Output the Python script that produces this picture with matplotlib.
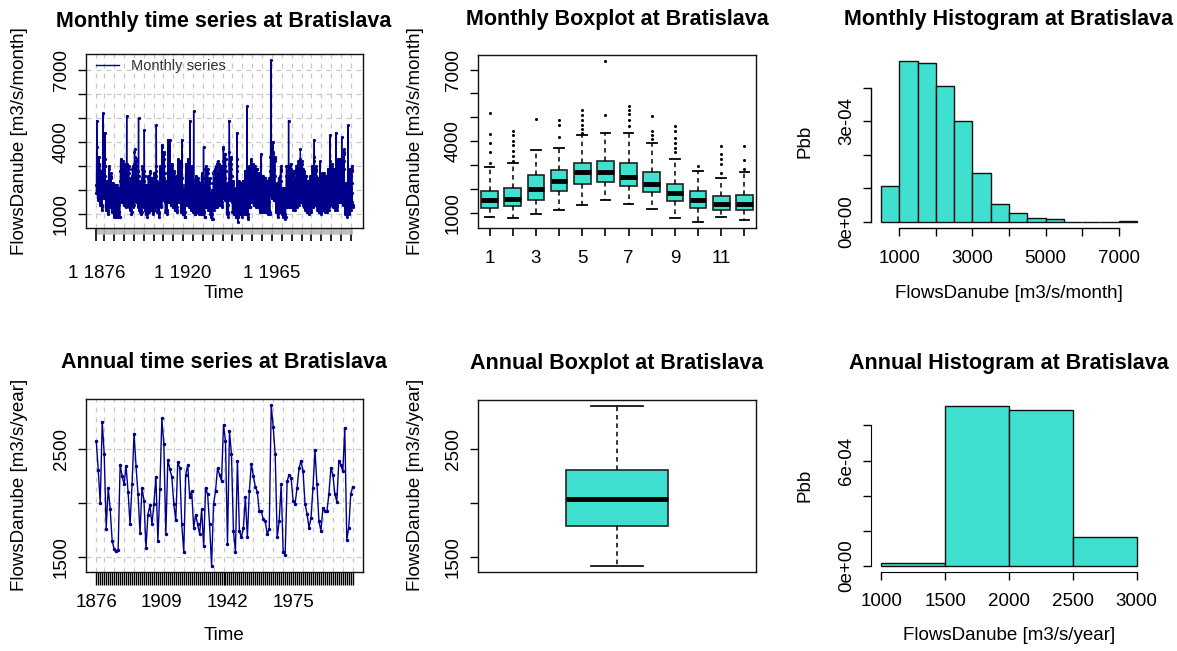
import numpy as np
import matplotlib
matplotlib.use("Agg")
import matplotlib.pyplot as plt
from matplotlib.lines import Line2D

plt.rcParams['font.family'] = ['Liberation Sans', 'DejaVu Sans']

# ---------------- data ----------------
station = "Bratislava"
first_year = 1876

# monthly mean flows, in hundreds of m3/s, one row per year (Jan..Dec), 1876-2005
monthly_flow_x100 = [
    [19, 22, 30, 49, 38, 33, 31, 27, 22, 18, 16, 17],  # 1876
    [17, 19, 26, 29, 34, 31, 30, 25, 20, 17, 15, 16],
    [14, 15, 19, 22, 26, 28, 25, 21, 17, 14, 12, 13],
    [18, 21, 29, 35, 52, 44, 36, 30, 24, 20, 18, 19],
    [17, 20, 25, 30, 33, 44, 30, 26, 22, 17, 15, 16],  # 1880
    [12, 13, 17, 20, 23, 24, 22, 19, 15, 12, 10, 11],
    [14, 16, 22, 26, 29, 30, 27, 23, 18, 15, 13, 14],
    [13, 14, 19, 23, 26, 27, 25, 21, 17, 14, 12, 13],
    [11, 12, 16, 19, 22, 23, 21, 18, 14, 11, 9, 10],
    [10, 11, 15, 18, 21, 22, 20, 17, 13, 11, 9, 10],   # 1885
    [11, 12, 15, 18, 20, 22, 20, 16, 13, 10, 9, 10],
    [10, 11, 16, 19, 21, 21, 19, 17, 14, 11, 9, 9],
    [15, 17, 24, 28, 32, 33, 30, 26, 21, 17, 15, 16],
    [15, 16, 22, 27, 31, 32, 29, 24, 20, 16, 14, 15],
    [14, 16, 21, 26, 30, 31, 28, 24, 19, 15, 13, 14],  # 1890
    [15, 17, 22, 27, 31, 51, 30, 25, 20, 16, 14, 15],
    [14, 15, 21, 25, 29, 30, 27, 23, 18, 15, 13, 14],
    [12, 13, 18, 21, 24, 25, 23, 19, 15, 12, 10, 11],
    [14, 16, 22, 26, 29, 30, 28, 24, 19, 15, 13, 14],
    [17, 19, 27, 31, 36, 37, 34, 29, 23, 18, 16, 17],  # 1895
    [15, 17, 23, 28, 32, 33, 30, 26, 21, 17, 15, 16],
    [13, 15, 20, 24, 28, 50, 26, 22, 17, 14, 12, 13],
    [11, 12, 17, 20, 23, 24, 22, 19, 15, 12, 10, 11],
    [14, 16, 22, 25, 29, 30, 28, 23, 18, 15, 13, 14],
    [13, 15, 20, 24, 45, 28, 26, 22, 17, 14, 12, 12],  # 1900
    [10, 11, 15, 18, 21, 22, 20, 17, 14, 11, 9, 10],
    [12, 14, 18, 22, 25, 26, 24, 20, 16, 13, 11, 12],
    [13, 14, 19, 23, 27, 28, 25, 21, 17, 14, 12, 13],
    [12, 13, 17, 21, 24, 25, 23, 19, 15, 12, 10, 11],
    [13, 14, 20, 24, 27, 27, 25, 22, 17, 14, 12, 13],  # 1905
    [14, 16, 21, 26, 30, 47, 28, 24, 19, 15, 13, 14],
    [11, 12, 16, 19, 22, 23, 21, 18, 14, 11, 9, 10],
    [14, 15, 21, 25, 29, 30, 28, 23, 18, 15, 13, 14],
    [18, 20, 27, 33, 38, 39, 36, 30, 24, 19, 17, 18],
    [16, 18, 25, 30, 35, 36, 33, 27, 22, 18, 15, 16],  # 1910
    [11, 12, 16, 20, 23, 24, 22, 19, 15, 12, 10, 11],
    [15, 17, 23, 28, 41, 33, 31, 26, 21, 17, 15, 16],
    [15, 16, 22, 27, 31, 41, 30, 25, 20, 16, 14, 15],
    [14, 16, 22, 26, 30, 31, 29, 24, 19, 15, 13, 14],
    [13, 14, 19, 23, 27, 28, 25, 21, 17, 14, 12, 13],  # 1915
    [12, 13, 18, 22, 25, 26, 23, 20, 16, 13, 11, 12],
    [15, 17, 23, 28, 32, 33, 31, 26, 21, 17, 15, 16],
    [15, 16, 22, 27, 31, 32, 30, 25, 20, 16, 14, 15],
    [11, 13, 17, 21, 41, 25, 22, 19, 15, 12, 10, 11],
    [10, 11, 15, 18, 20, 21, 19, 16, 13, 11, 9, 9],    # 1920
    [14, 16, 22, 26, 30, 31, 29, 25, 20, 16, 14, 15],
    [15, 17, 23, 28, 32, 33, 30, 26, 21, 17, 15, 15],
    [13, 15, 20, 24, 28, 49, 26, 22, 17, 14, 12, 13],
    [14, 15, 20, 25, 29, 30, 27, 23, 18, 15, 13, 13],
    [11, 12, 17, 20, 53, 24, 21, 18, 14, 11, 10, 10],  # 1925
    [12, 14, 18, 22, 25, 26, 24, 20, 16, 13, 11, 12],
    [12, 13, 17, 21, 24, 25, 23, 19, 15, 12, 10, 11],
    [11, 12, 16, 20, 23, 23, 22, 18, 15, 12, 10, 11],
    [13, 14, 19, 23, 26, 27, 25, 21, 17, 14, 12, 12],
    [10, 11, 15, 18, 38, 22, 20, 17, 13, 11, 9, 9],    # 1930
    [14, 16, 21, 25, 29, 30, 28, 23, 18, 15, 13, 14],
    [13, 15, 20, 25, 28, 29, 27, 22, 18, 14, 12, 13],
    [12, 13, 17, 21, 24, 25, 23, 19, 15, 12, 10, 11],
    [9, 10, 14, 16, 19, 20, 18, 15, 12, 10, 8, 8],
    [13, 14, 19, 23, 27, 28, 25, 21, 17, 14, 12, 13],  # 1935
    [14, 15, 20, 25, 29, 30, 27, 23, 18, 15, 13, 13],
    [15, 16, 22, 27, 31, 32, 30, 25, 20, 16, 14, 15],
    [14, 16, 22, 26, 30, 31, 29, 25, 20, 16, 14, 15],
    [14, 16, 21, 26, 30, 30, 28, 24, 19, 15, 13, 14],
    [17, 20, 26, 32, 37, 38, 35, 29, 23, 19, 17, 18],  # 1940
    [16, 19, 25, 30, 35, 35, 33, 28, 22, 18, 16, 17],
    [10, 11, 15, 19, 22, 23, 21, 17, 14, 11, 9, 10],
    [17, 19, 25, 31, 36, 49, 33, 28, 22, 18, 16, 17],
    [16, 18, 23, 29, 33, 34, 31, 26, 21, 17, 15, 16],
    [11, 12, 17, 20, 23, 24, 22, 19, 15, 12, 10, 11],  # 1945
    [10, 11, 15, 18, 20, 21, 19, 16, 13, 11, 9, 9],
    [15, 17, 23, 28, 44, 33, 30, 24, 14, 7, 9, 9],
    [10, 11, 17, 20, 23, 24, 22, 19, 15, 12, 10, 11],
    [11, 12, 16, 20, 22, 23, 21, 18, 14, 11, 9, 10],
    [11, 13, 17, 21, 24, 24, 22, 19, 15, 12, 10, 11],  # 1950
    [13, 15, 20, 24, 28, 28, 26, 22, 17, 14, 12, 13],
    [10, 11, 16, 19, 22, 55, 21, 17, 13, 10, 8, 9],
    [14, 15, 20, 25, 29, 30, 27, 23, 18, 15, 13, 13],
    [15, 17, 23, 28, 32, 33, 31, 26, 21, 17, 15, 15],
    [15, 16, 22, 27, 30, 31, 29, 24, 20, 16, 14, 15],  # 1955
    [14, 16, 21, 26, 29, 30, 28, 23, 19, 15, 13, 14],
    [14, 15, 20, 25, 29, 29, 27, 23, 18, 15, 13, 13],
    [13, 14, 19, 22, 26, 27, 25, 21, 16, 13, 11, 12],
    [12, 14, 18, 22, 26, 35, 24, 20, 16, 13, 11, 12],
    [12, 13, 18, 22, 25, 26, 24, 20, 16, 13, 11, 12],  # 1960
    [12, 13, 18, 21, 25, 25, 23, 20, 16, 13, 11, 12],
    [11, 12, 16, 20, 23, 24, 22, 18, 15, 12, 10, 11],
    [11, 12, 17, 20, 24, 25, 22, 19, 15, 12, 10, 11],
    [18, 21, 28, 34, 40, 74, 38, 31, 25, 20, 17, 18],
    [17, 19, 26, 32, 36, 40, 35, 29, 23, 19, 16, 17],  # 1965
    [16, 18, 23, 29, 33, 34, 32, 26, 21, 17, 15, 16],
    [11, 12, 16, 20, 22, 23, 21, 18, 14, 11, 9, 10],
    [12, 13, 18, 21, 25, 25, 23, 20, 16, 13, 11, 12],
    [14, 16, 21, 26, 29, 30, 28, 24, 19, 15, 13, 14],
    [10, 11, 15, 18, 20, 21, 19, 16, 13, 11, 9, 9],    # 1970
    [10, 11, 14, 17, 20, 21, 19, 16, 13, 10, 8, 9],
    [14, 16, 21, 26, 30, 30, 28, 24, 19, 15, 13, 14],
    [14, 16, 22, 26, 30, 49, 29, 24, 19, 15, 13, 14],
    [14, 16, 21, 26, 30, 31, 29, 24, 19, 15, 13, 14],
    [13, 15, 20, 24, 27, 28, 26, 22, 17, 14, 12, 13],  # 1975
    [13, 14, 19, 23, 27, 28, 25, 21, 17, 14, 12, 13],
    [14, 16, 21, 25, 29, 30, 28, 23, 18, 15, 13, 14],
    [15, 16, 22, 27, 31, 32, 30, 25, 20, 16, 14, 15],
    [15, 17, 23, 28, 37, 33, 31, 26, 21, 17, 15, 15],
    [15, 16, 22, 27, 31, 32, 29, 25, 20, 16, 14, 15],  # 1980
    [13, 14, 19, 23, 27, 28, 25, 21, 17, 14, 12, 13],
    [12, 14, 18, 22, 26, 26, 24, 20, 16, 13, 11, 12],
    [11, 13, 17, 21, 24, 24, 22, 19, 15, 12, 10, 11],
    [12, 13, 18, 22, 25, 26, 24, 20, 16, 13, 11, 12],
    [14, 16, 21, 25, 29, 30, 28, 23, 18, 15, 13, 14],  # 1985
    [16, 18, 24, 29, 34, 41, 32, 27, 21, 17, 15, 16],
    [14, 16, 21, 26, 29, 30, 28, 24, 19, 15, 13, 14],
    [12, 13, 18, 21, 25, 25, 23, 20, 16, 13, 11, 12],
    [11, 12, 17, 20, 23, 32, 22, 19, 15, 12, 10, 11],
    [13, 14, 19, 23, 26, 27, 25, 21, 17, 14, 12, 12],  # 1990
    [12, 14, 18, 22, 26, 27, 24, 21, 16, 13, 11, 12],
    [12, 14, 19, 22, 26, 26, 24, 21, 16, 13, 11, 12],
    [13, 15, 20, 24, 28, 29, 27, 22, 18, 14, 12, 13],
    [15, 16, 22, 27, 43, 32, 30, 25, 20, 16, 14, 15],
    [14, 16, 22, 26, 30, 31, 29, 25, 20, 16, 14, 15],  # 1995
    [13, 15, 20, 24, 28, 29, 27, 22, 18, 14, 12, 13],
    [13, 14, 19, 23, 27, 44, 26, 22, 17, 14, 12, 13],
    [15, 17, 23, 28, 32, 33, 31, 26, 21, 17, 15, 15],
    [15, 17, 23, 28, 32, 33, 30, 26, 21, 17, 15, 15],
    [15, 16, 22, 27, 42, 32, 29, 25, 20, 16, 14, 15],  # 2000
    [17, 19, 26, 32, 36, 37, 35, 29, 23, 19, 16, 17],
    [10, 12, 16, 19, 22, 23, 21, 18, 14, 11, 9, 10],
    [11, 12, 17, 20, 24, 47, 22, 19, 15, 12, 10, 11],
    [13, 15, 20, 24, 28, 29, 27, 22, 18, 14, 12, 13],
    [14, 16, 21, 26, 29, 30, 28, 23, 19, 15, 13, 14],  # 2005
]

# annual mean flows [m3/s/year], 1876-2005
annual_flow = [
    2570, 2300, 2000, 2750, 2450, 1760, 2140, 1940, 1650, 1570,
    1555, 1560, 2350, 2250, 2170, 2340, 2100, 1800, 2170, 2640,
    2340, 2080, 1720, 2140, 2020, 1580, 1890, 1980, 1800, 1990,
    2240, 1650, 2130, 2780, 2540, 1710, 2400, 2310, 2240, 1990,
    1840, 2380, 2320, 1800, 1550, 2260, 2350, 2050, 2110, 1770,
    1890, 1800, 1710, 1940, 1600, 2140, 2080, 1800, 1420, 1990,
    2110, 2320, 2260, 2200, 2720, 2570, 1620, 2660, 2450, 1740,
    1550, 2390, 1740, 1680, 1770, 2050, 1680, 2110, 2360, 2250,
    2150, 2100, 1920, 1920, 1850, 1830, 1710, 1760, 2900, 2700,
    2450, 1680, 1830, 2170, 1550, 1520, 2200, 2260, 2230, 2020,
    1990, 2140, 2320, 2390, 2290, 1990, 1900, 1770, 1860, 2140,
    2490, 2170, 1830, 1740, 1950, 1920, 1920, 2080, 2320, 2260,
    2080, 2010, 2390, 2350, 2290, 2690, 1660, 1770, 2080, 2150,
]

# monthly boxplot statistics [m3/s/month], months 1..12
months = list(range(1, 13))
box_whislo = [819, 763, 930, 1098, 1307, 1516, 1377, 1139, 763, 623, 819, 707]
box_q1 = [1181, 1293, 1544, 1907, 2213, 2283, 2116, 1865, 1488, 1181, 1112, 1112]
box_med = [1516, 1558, 2004, 2325, 2702, 2688, 2506, 2186, 1823, 1516, 1349, 1377]
box_q3 = [1893, 2046, 2562, 2799, 3064, 3162, 3064, 2688, 2186, 1893, 1683, 1753]
box_whishi = [2925, 3064, 3608, 3720, 4250, 4347, 4333, 3901, 3232, 2743, 2437, 2702]
box_outliers = [
    [3092, 3552, 3929, 4305, 5170],
    [3160, 3357, 3580, 3817, 4026, 4250, 4445],
    [4933],
    [4194, 4696, 4877],
    [4361, 4501, 4696, 4891, 5086, 5296],
    [5114, 7346],
    [4654, 4905, 5142, 5324, 5491],
    [4110, 4278, 4445, 5072],
    [3552, 3720, 3929, 4138, 4445, 4654],
    [2953],
    [2674, 3022, 3232, 3441, 3789],
    [2813, 3190, 3775],
]

# annual boxplot statistics [m3/s/year]
ann_whislo, ann_q1, ann_med, ann_q3, ann_whishi = 1417, 1784, 2034, 2302, 2894

# histogram bins and densities
mon_hist_edges = [500, 1000, 1500, 2000, 2500, 3000, 3500, 4000, 4500, 5000,
                  5500, 6000, 6500, 7000, 7500]
mon_hist_density = [1.05e-4, 4.78e-4, 4.72e-4, 4.06e-4, 3.00e-4, 1.45e-4, 0.53e-4,
                    0.25e-4, 0.12e-4, 0.08e-4, 0.0, 0.0, 0.0, 0.013e-4]
ann_hist_edges = [1000, 1500, 2000, 2500, 3000]
ann_hist_density = [0.15e-4, 9.09e-4, 8.91e-4, 1.66e-4]

# ---------------- styling ----------------
W, H = 1177, 651
BLUE = '#00008B'
TURQ = '#40E0D0'
GRIDC = '#C8C8C8'
FS = 13.5
TFS = 15.5

fig = plt.figure(figsize=(W / 100, H / 100), dpi=100)


def add_ax(l, t, r, b):
    return fig.add_axes([l / W, 1 - b / H, (r - l) / W, (b - t) / H])


def rlim(lo, hi):
    e = 0.04 * (hi - lo)
    return lo - e, hi + e


def ftext(x, y, s, **kw):
    fig.text(x / W, 1 - y / H, s, ha='center', va='center', **kw)


def frame(ax):
    for sp in ax.spines.values():
        sp.set_color('#111111')
        sp.set_linewidth(1.0)


def yaxis_style(ax, ticks, labels, pad=5.5):
    ax.set_yticks(ticks)
    ax.set_yticklabels(labels, rotation=90, va='center', fontsize=FS)
    ax.tick_params(axis='y', length=6, width=1, pad=pad)


def hgrid(ax, ys):
    for y in ys:
        ax.axhline(y, color=GRIDC, lw=0.9, ls=(0, (4, 4)), zorder=0)


def vgrid(ax, xs):
    for x in xs:
        ax.axvline(x, color=GRIDC, lw=0.9, ls=(0, (4, 4)), zorder=0)


years = np.arange(first_year, first_year + len(annual_flow))
grid_years = [first_year] + list(range(1880, int(years[-1]) + 1, 5))

# ---------- monthly time series ----------
ax = add_ax(86, 54, 363, 228)
frame(ax)
m_arr = np.array(monthly_flow_x100, dtype=float) * 100
t_month = (np.arange(first_year, first_year + m_arr.shape[0])[:, None]
           + np.arange(12)[None, :] / 12.0).ravel()
q_month = m_arr.ravel()
ax.set_xlim(*rlim(t_month.min(), t_month.max()))
ax.set_ylim(*rlim(q_month.min(), q_month.max()))
hgrid(ax, range(1000, 8000, 1000))
vgrid(ax, grid_years)
ax.plot(t_month, q_month, color=BLUE, lw=1.0, marker='.', ms=2.6, zorder=3)
yaxis_style(ax, list(range(1000, 8000, 1000)),
            ['1000', '', '', '4000', '', '', '7000'])
ax.set_xticks(grid_years)
ax.set_xticklabels(['1 %d' % y if y in (1876, 1920, 1965) else '' for y in grid_years],
                   fontsize=FS)
ax.set_xticks(t_month[::3], minor=True)
ax.tick_params(axis='x', which='major', length=9, width=1.2, pad=18)
ax.tick_params(axis='x', which='minor', length=4.5, width=0.6, color='#BEBEBE')
ax.legend(handles=[Line2D([], [], color=BLUE, lw=1.0)], labels=['Monthly series'],
          loc='upper left', bbox_to_anchor=(96 / W, 1 - 59 / H),
          bbox_transform=fig.transFigure, frameon=False, fontsize=10.5,
          borderpad=0, borderaxespad=0, handlelength=1.6, handletextpad=0.8,
          labelcolor='#333333')
ftext(224, 21, 'Monthly time series at ' + station, fontsize=TFS, fontweight='bold')
ftext(20, 141, 'FlowsDanube [m3/s/month]', fontsize=FS, rotation=90)
ftext(224, 293, 'Time', fontsize=FS)

# ---------- monthly boxplot ----------
ax = add_ax(478, 55, 756, 228)
frame(ax)
stats = []
for i in range(12):
    stats.append(dict(whislo=box_whislo[i], q1=box_q1[i], med=box_med[i],
                      q3=box_q3[i], whishi=box_whishi[i], fliers=box_outliers[i]))
ax.bxp(stats, positions=months, widths=0.72, capwidths=0.42, patch_artist=True,
       boxprops=dict(facecolor=TURQ, edgecolor='#222222', lw=1.2),
       medianprops=dict(color='black', lw=3.5, solid_capstyle='butt'),
       whiskerprops=dict(color='black', lw=1.1, ls=(0, (3, 2.5))),
       capprops=dict(color='black', lw=1.3),
       flierprops=dict(marker='o', ms=1.2, mfc='black', mec='black'))
allv = box_whislo + [v for o in box_outliers for v in o]
ax.set_xlim(0.5, 12.5)
ax.set_ylim(*rlim(min(allv), max(allv)))
yaxis_style(ax, list(range(1000, 8000, 1000)),
            ['1000', '', '', '4000', '', '', '7000'])
ax.set_xticks(months)
ax.set_xticklabels([str(m) if m % 2 == 1 else '' for m in months], fontsize=FS)
ax.tick_params(axis='x', length=6, width=1.2, pad=10)
ftext(617, 20, 'Monthly Boxplot at ' + station, fontsize=TFS, fontweight='bold')
ftext(415, 141, 'FlowsDanube [m3/s/month]', fontsize=FS, rotation=90)

# ---------- monthly histogram ----------
ax = add_ax(871, 55, 1147, 228)
ax.bar(mon_hist_edges[:-1], mon_hist_density, width=np.diff(mon_hist_edges),
       align='edge', color=TURQ, edgecolor='#111111', lw=1.0)
ax.set_xlim(*rlim(mon_hist_edges[0], mon_hist_edges[-1]))
ax.set_ylim(*rlim(0, max(mon_hist_density)))
for s in ('top', 'right'):
    ax.spines[s].set_visible(False)
ax.spines['left'].set_bounds(0, 4e-4)
ax.spines['bottom'].set_bounds(1000, 7000)
ax.spines['left'].set_linewidth(1.0)
ax.spines['bottom'].set_linewidth(1.0)
yaxis_style(ax, [0, 1e-4, 2e-4, 3e-4, 4e-4], ['0e+00', '', '', '3e-04', ''])
ax.set_xticks(range(1000, 8000, 1000))
ax.set_xticklabels(['1000', '', '3000', '', '5000', '', '7000'], fontsize=FS)
ax.tick_params(axis='x', length=6, width=1, pad=10)
ftext(1009, 20, 'Monthly Histogram at ' + station, fontsize=TFS, fontweight='bold')
ftext(805, 141, 'Pbb', fontsize=FS, rotation=90)
ftext(1009, 293, 'FlowsDanube [m3/s/month]', fontsize=FS)

# ---------- annual time series ----------
ax = add_ax(86, 399, 363, 572)
frame(ax)
ax.set_xlim(*rlim(years.min(), years.max()))
ax.set_ylim(*rlim(min(annual_flow), max(annual_flow)))
hgrid(ax, [1500, 2000, 2500])
vgrid(ax, grid_years)
ax.plot(years, annual_flow, color=BLUE, lw=1.0, marker='.', ms=3, zorder=3)
yaxis_style(ax, [1500, 2000, 2500], ['1500', '', '2500'])
ax.set_xticks(years)
ax.set_xticklabels([str(y) if y in (1876, 1909, 1942, 1975) else '' for y in years],
                   fontsize=FS)
ax.tick_params(axis='x', length=9, width=1.0, pad=7)
ftext(224, 363, 'Annual time series at ' + station, fontsize=TFS, fontweight='bold')
ftext(20, 485, 'FlowsDanube [m3/s/year]', fontsize=FS, rotation=90)
ftext(224, 635, 'Time', fontsize=FS)

# ---------- annual boxplot ----------
ax = add_ax(478, 400, 756, 572)
frame(ax)
ax.bxp([dict(whislo=ann_whislo, q1=ann_q1, med=ann_med, q3=ann_q3,
             whishi=ann_whishi, fliers=[])],
       positions=[1], widths=0.37, capwidths=0.187, patch_artist=True,
       boxprops=dict(facecolor=TURQ, edgecolor='#222222', lw=1.2),
       medianprops=dict(color='black', lw=3.5, solid_capstyle='butt'),
       whiskerprops=dict(color='black', lw=1.1, ls=(0, (3, 2.5))),
       capprops=dict(color='black', lw=1.2))
ax.set_xlim(0.5, 1.5)
ax.set_ylim(*rlim(ann_whislo, ann_whishi))
yaxis_style(ax, [1500, 2000, 2500], ['1500', '', '2500'])
ax.set_xticks([])
ftext(617, 363, 'Annual Boxplot at ' + station, fontsize=TFS, fontweight='bold')
ftext(415, 485, 'FlowsDanube [m3/s/year]', fontsize=FS, rotation=90)

# ---------- annual histogram ----------
ax = add_ax(871, 400, 1147, 572)
ax.bar(ann_hist_edges[:-1], ann_hist_density, width=np.diff(ann_hist_edges),
       align='edge', color=TURQ, edgecolor='#111111', lw=1.0)
ax.set_xlim(*rlim(ann_hist_edges[0], ann_hist_edges[-1]))
ax.set_ylim(*rlim(0, max(ann_hist_density)))
for s in ('top', 'right'):
    ax.spines[s].set_visible(False)
ax.spines['left'].set_bounds(0, 8e-4)
ax.spines['bottom'].set_bounds(1000, 3000)
yaxis_style(ax, [0, 2e-4, 4e-4, 6e-4, 8e-4], ['0e+00', '', '', '6e-04', ''])
ax.set_xticks(ann_hist_edges)
ax.set_xticklabels([str(v) for v in ann_hist_edges], fontsize=FS)
ax.tick_params(axis='x', length=6, width=1, pad=9)
ftext(1009, 363, 'Annual Histogram at ' + station, fontsize=TFS, fontweight='bold')
ftext(805, 485, 'Pbb', fontsize=FS, rotation=90)
ftext(1009, 635, 'FlowsDanube [m3/s/year]', fontsize=FS)

fig.savefig('out.png', dpi=100)
